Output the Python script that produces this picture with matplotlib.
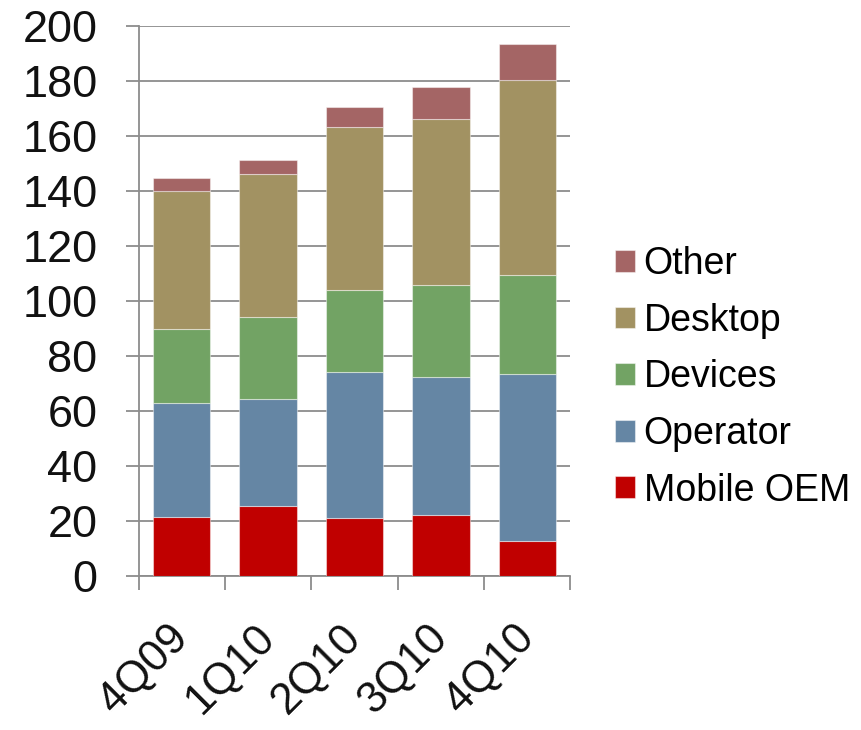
import numpy as np
import matplotlib
matplotlib.use("Agg")
import matplotlib.pyplot as plt
from matplotlib.transforms import ScaledTranslation

plt.rcParams['font.family'] = ['Liberation Sans', 'DejaVu Sans']

# Quarterly revenue by segment
quarters = ["4Q09", "1Q10", "2Q10", "3Q10", "4Q10"]
mobile_oem = [21.3, 25.5, 21.1, 22.1, 12.7]
operator = [41.7, 39.0, 53.1, 50.3, 60.8]
devices = [27.0, 29.8, 29.9, 33.6, 36.1]
desktop = [50.1, 52.0, 59.2, 60.4, 71.0]
other = [4.8, 5.2, 7.4, 11.7, 13.1]

series = [
    ("Mobile OEM", mobile_oem, "#c00000"),
    ("Operator", operator, "#6586a4"),
    ("Devices", devices, "#72a364"),
    ("Desktop", desktop, "#a29262"),
    ("Other", other, "#a46565"),
]

fig = plt.figure(figsize=(8.61, 7.30), dpi=100)
ax = fig.add_axes([0.1609, 0.2114, 0.5017, 0.7523])

x = np.arange(len(quarters))
bottom = np.zeros(len(quarters))
for name, vals, col in series:
    ax.bar(x, vals, 0.665, bottom=bottom, color=col, label=name,
           edgecolor=(1, 1, 1, 0.45), linewidth=0.8, zorder=3)
    bottom += np.array(vals)

ax.set_xlim(-0.5, len(quarters) - 0.5)
ax.set_ylim(0, 200)
ax.set_yticks(np.arange(0, 201, 20))
ax.yaxis.grid(True, color="#8c8c8c", linewidth=1.3, zorder=0)
ax.set_axisbelow(True)

for side in ("top", "right"):
    ax.spines[side].set_visible(False)
for side in ("left", "bottom"):
    ax.spines[side].set_color("#8c8c8c")
    ax.spines[side].set_linewidth(1.3)

ax.tick_params(axis="y", colors="#8c8c8c", length=9.5, width=1.3, pad=20,
               labelsize=32.5, labelcolor="#111111")
ax.set_xticks(x)
ax.set_xticklabels(quarters, rotation=45, ha="right", va="top",
                   rotation_mode="anchor")
ax.tick_params(axis="x", which="major", length=0, pad=30, labelsize=31.5,
               labelcolor="#111111")
# shift the slanted labels a little to the left
shift = ScaledTranslation(-10 / 72, 0, fig.dpi_scale_trans)
for lbl in ax.get_xticklabels():
    lbl.set_transform(lbl.get_transform() + shift)
ax.set_xticks(np.arange(-0.5, len(quarters), 1), minor=True)
ax.tick_params(axis="x", which="minor", length=10, width=1.3, colors="#8c8c8c")

handles, labels = ax.get_legend_handles_labels()
fig.legend(handles[::-1], labels[::-1], loc="center left",
           bbox_to_anchor=(0.7143, 0.4830), frameon=False, fontsize=27,
           handlelength=0.52, handleheight=0.52, handletextpad=0.24,
           labelspacing=0.55, borderpad=0, borderaxespad=0)

fig.savefig("out.png", dpi=100)
